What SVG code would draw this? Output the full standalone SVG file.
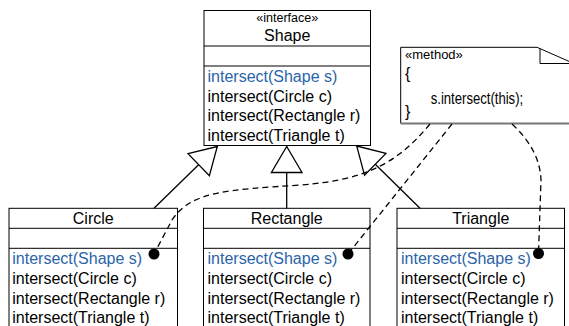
<svg xmlns="http://www.w3.org/2000/svg" width="569" height="326" viewBox="0 0 569 326">
<style>
.box{fill:#fff;stroke:#000;stroke-width:1}
.ln{stroke:#000;stroke-width:1;fill:none}
.t{font-family:"Liberation Sans",Arial,sans-serif;font-size:16px;fill:#000}
.blue{fill:#2a64a8}
.st{font-family:"Liberation Sans",Arial,sans-serif;font-size:12.5px;fill:#000}
.nt{font-family:"Liberation Sans",Arial,sans-serif;font-size:13px;fill:#000}
.nb{font-family:"Liberation Sans Narrow","Liberation Sans",Arial,sans-serif;font-size:16px;fill:#000}
.c{text-anchor:middle}
.gen{stroke:#000;stroke-width:1.3;fill:none}
.dep{stroke:#000;stroke-width:1.3;fill:none;stroke-dasharray:6 4}
.dot{fill:#000}
</style>
<defs>
<marker id="tri" viewBox="-2 -2 30 35" refX="26" refY="15.3" markerWidth="30" markerHeight="35" markerUnits="userSpaceOnUse" orient="auto">
<path d="M0,0 L26,15.3 L0,30.6 Z" fill="#fff" stroke="#000" stroke-width="1.3" stroke-linejoin="miter"/>
</marker>
</defs>

<g id="shape">
<rect class="box" x="204" y="10.5" width="166.5" height="135"/>
<line class="ln" x1="204" y1="46" x2="370.5" y2="46"/>
<line class="ln" x1="204" y1="66" x2="370.5" y2="66"/>
<text class="st c" x="287.25" y="22">«interface»</text>
<text class="t c" x="287.25" y="41">Shape</text>
<text class="t blue" x="207.5" y="81.7">intersect(Shape s)</text>
<text class="t" x="207.5" y="101.6">intersect(Circle c)</text>
<text class="t" x="207.5" y="121.4">intersect(Rectangle r)</text>
<text class="t" x="207.5" y="141">intersect(Triangle t)</text>
</g>

<g id="circle">
<rect class="box" x="9" y="208.3" width="168.5" height="130"/>
<line class="ln" x1="9" y1="228.3" x2="177.5" y2="228.3"/>
<line class="ln" x1="9" y1="248.3" x2="177.5" y2="248.3"/>
<text class="t c" x="93.25" y="224">Circle</text>
<text class="t blue" x="12.3" y="264">intersect(Shape s)</text>
<text class="t" x="12.3" y="283.8">intersect(Circle c)</text>
<text class="t" x="12.3" y="303.6">intersect(Rectangle r)</text>
<text class="t" x="12.3" y="323.3">intersect(Triangle t)</text>
</g>

<g id="rectangle">
<rect class="box" x="203.5" y="208.3" width="166.5" height="130"/>
<line class="ln" x1="203.5" y1="228.3" x2="370" y2="228.3"/>
<line class="ln" x1="203.5" y1="248.3" x2="370" y2="248.3"/>
<text class="t c" x="286.75" y="224">Rectangle</text>
<text class="t blue" x="207.5" y="264">intersect(Shape s)</text>
<text class="t" x="207.5" y="283.8">intersect(Circle c)</text>
<text class="t" x="207.5" y="303.6">intersect(Rectangle r)</text>
<text class="t" x="207.5" y="323.3">intersect(Triangle t)</text>
</g>

<g id="triangle">
<rect class="box" x="397" y="208.3" width="167.5" height="130"/>
<line class="ln" x1="397" y1="228.3" x2="564.5" y2="228.3"/>
<line class="ln" x1="397" y1="248.3" x2="564.5" y2="248.3"/>
<text class="t c" x="480.75" y="224">Triangle</text>
<text class="t blue" x="401" y="264">intersect(Shape s)</text>
<text class="t" x="401" y="283.8">intersect(Circle c)</text>
<text class="t" x="401" y="303.6">intersect(Rectangle r)</text>
<text class="t" x="401" y="323.3">intersect(Triangle t)</text>
</g>

<g id="note">
<path d="M400.7,123.5 L400.7,47.3 L537,47.3 L575,64 L575,123.5" fill="#fff" stroke="#000" stroke-width="1"/>
<line x1="400.7" y1="123.5" x2="575" y2="123.5" stroke="#777" stroke-width="2"/>
<path d="M540,48.5 L540,63.5 L575,63.5" fill="none" stroke="#000" stroke-width="1"/>
<text class="nt" x="405" y="59">«method»</text>
<text class="nb" x="405" y="79">{</text>
<text class="nb" x="430.7" y="104" textLength="92.5" lengthAdjust="spacingAndGlyphs">s.intersect(this);</text>
<text class="nb" x="405" y="117">}</text>
</g>

<g id="connectors">
<line class="gen" x1="154" y1="208.3" x2="217.3" y2="146.5" marker-end="url(#tri)"/>
<line class="gen" x1="286.7" y1="208.3" x2="286.7" y2="146.5" marker-end="url(#tri)"/>
<line class="gen" x1="420" y1="208.3" x2="356.7" y2="146" marker-end="url(#tri)"/>
<path class="dep" d="M430,124 C400,160 370,180 300,185 C230,190 192,190 172,220 L154,254"/>
<path class="dep" d="M452,124 L348,254"/>
<path class="dep" d="M512,124 Q540,150 541,180 L538.5,253.5"/>
<circle class="dot" cx="154" cy="254" r="5.5"/>
<circle class="dot" cx="348" cy="254" r="5.5"/>
<circle class="dot" cx="538.5" cy="253.5" r="5.5"/>
</g>
</svg>
